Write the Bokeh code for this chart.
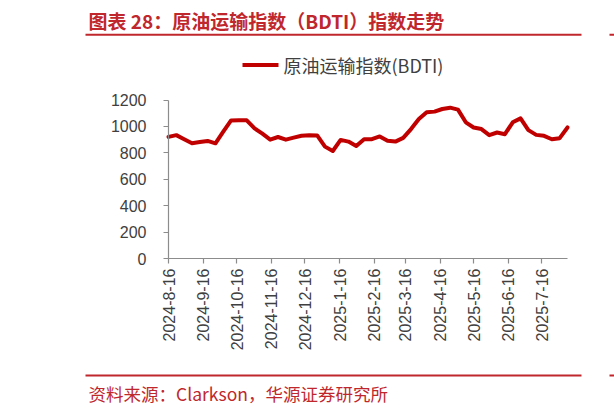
import pandas as pd
from math import pi
from bokeh.plotting import figure
from bokeh.models import Range1d, FixedTicker, Label, BoxAnnotation
from bokeh.embed import file_html
from bokeh.resources import INLINE

# ---- data (weekly BDTI) ----
start_date = "2024-08-16"
bdti = [921, 934, 903, 873, 882, 890, 872, 960, 1045, 1046,
        1046, 985, 945, 900, 920, 900, 915, 929, 934, 932,
        847, 814, 898, 885, 852, 903, 903, 924, 891, 885,
        913, 980, 1056, 1108, 1112, 1132, 1142, 1127, 1031, 992,
        980, 934, 954, 941, 1031, 1061, 972, 936, 929, 903,
        911, 992]
tick_labels = ["2024-8-16", "2024-9-16", "2024-10-16", "2024-11-16", "2024-12-16",
               "2025-1-16", "2025-2-16", "2025-3-16", "2025-4-16", "2025-5-16",
               "2025-6-16", "2025-7-16"]
y_ticks = [0, 200, 400, 600, 800, 1000, 1200]
series_name = "原油运输指数(BDTI)"
title_text = "图表 28：原油运输指数（BDTI）指数走势"
source_text = "资料来源：Clarkson，华源证券研究所"

dates = pd.date_range(start_date, periods=len(bdti), freq="7D")
days = [int((d - dates[0]).days) for d in dates]
tick_days = [int((pd.Timestamp(t) - dates[0]).days) for t in tick_labels]

RED = "#c0272d"
LINE_RED = "#c00000"
AXIS_GRAY = "#8c8c8c"
TXT = "#404040"
CJK = "Noto Sans CJK SC"

# ---- page geometry (pixels) ----
W, H = 614, 414
PX_X0, PX_X1 = 168.0, 567.0      # plot area left / right
PX_Y_TOP, PX_Y_BOT = 99.5, 258.0  # plot area top / bottom
x_lo, x_hi = days[0], days[-1]
y_lo, y_hi = y_ticks[0], y_ticks[-1]
kx = (PX_X1 - PX_X0) / (x_hi - x_lo)
ky = (PX_Y_BOT - PX_Y_TOP) / (y_hi - y_lo)
x_range = Range1d(x_lo - PX_X0 / kx, x_hi + (W - PX_X1) / kx)
y_range = Range1d(y_lo - (H - PX_Y_BOT) / ky, y_hi + PX_Y_TOP / ky)

p = figure(width=W, height=H, output_backend="svg", toolbar_location=None,
           x_range=x_range, y_range=y_range,
           min_border=0, min_border_left=0, min_border_right=0,
           min_border_top=0, min_border_bottom=0)
p.outline_line_color = None
p.grid.visible = False
p.background_fill_color = "white"
p.border_fill_color = "white"

p.line(days, bdti, line_color=LINE_RED, line_width=4, line_join="round", line_cap="round")

for ax in (p.xaxis[0], p.yaxis[0]):
    ax.axis_line_color = AXIS_GRAY
    ax.axis_line_width = 1.2
    ax.major_tick_line_color = AXIS_GRAY
    ax.major_tick_line_width = 1.2
    ax.major_tick_in = 0
    ax.major_tick_out = 5
    ax.minor_tick_line_color = None
    ax.major_label_text_font = "Liberation Sans"
    ax.major_label_text_font_size = "16px"
    ax.major_label_text_color = TXT

p.xaxis.fixed_location = y_lo
p.xaxis.bounds = (x_lo, x_hi)
p.xaxis.ticker = FixedTicker(ticks=tick_days)
p.xaxis.major_label_overrides = {d: l for d, l in zip(tick_days, tick_labels)}
p.xaxis.major_label_orientation = pi / 2
p.xaxis.major_label_standoff = 5

p.yaxis.fixed_location = x_lo
p.yaxis.bounds = (y_lo, y_hi)
p.yaxis.ticker = FixedTicker(ticks=y_ticks)
p.yaxis.major_label_standoff = 17


def box(left, right, top_px, thick, color):
    # screen units: y measured upward from the bottom of the page
    return BoxAnnotation(left=left, right=right,
                         bottom=H - top_px - thick / 2, top=H - top_px + thick / 2,
                         left_units="screen", right_units="screen",
                         bottom_units="screen", top_units="screen",
                         fill_color=color, fill_alpha=1, line_alpha=0)


def label(x, y_px, text, size, color, style="normal"):
    return Label(x=x, y=H - y_px, x_units="screen", y_units="screen", text=text,
                 text_font=CJK, text_font_style=style, text_font_size=size,
                 text_color=color, text_baseline="middle", text_align="left")


# header
p.add_layout(label(88, 19.5, title_text, "19px", RED, "bold"))
p.add_layout(box(85, 581, 34.3, 2, RED))
p.add_layout(box(609, 614, 34.3, 2, RED))

# legend
p.add_layout(box(242, 278, 64.5, 4, LINE_RED))
p.add_layout(label(283, 64.5, series_name, "18px", TXT))

# footer
p.add_layout(box(85, 581, 375, 2, RED))
p.add_layout(box(609, 614, 375, 2, RED))
p.add_layout(label(88, 393, source_text, "17.5px", RED))

open("out.html", "w").write(file_html(p, INLINE))
